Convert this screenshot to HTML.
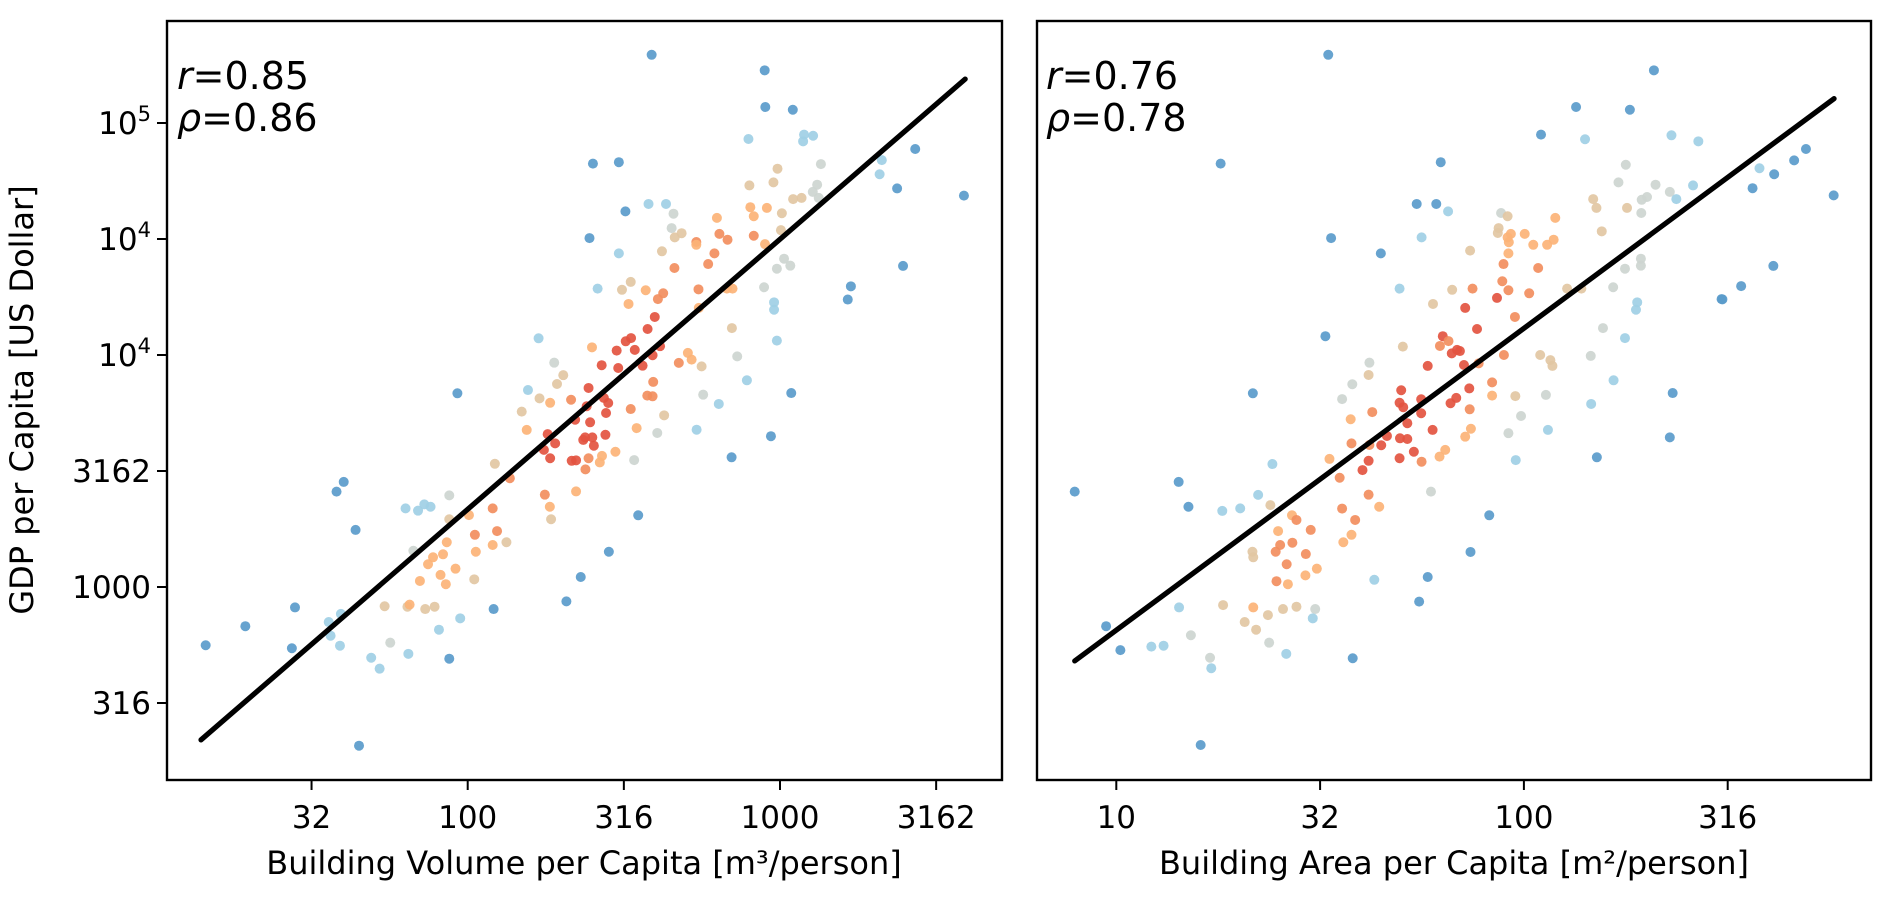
<!DOCTYPE html>
<html><head><meta charset="utf-8"><style>
html,body{margin:0;padding:0;background:#fff}
svg{display:block;font-family:"DejaVu Sans","Liberation Sans",sans-serif}
</style></head><body>
<svg id="fig" width="1892" height="897" viewBox="0 0 1892 897" xmlns="http://www.w3.org/2000/svg">
<rect width="1892" height="897" fill="#fff"/>
<g id="left"></g>
<g id="right"></g>
<text transform="translate(33,400) rotate(-90)" text-anchor="middle" font-size="32">GDP per Capita [US Dollar]</text>
<text x="584" y="874" text-anchor="middle" font-size="32">Building Volume per Capita [m³/person]</text>
<text x="1454" y="874" text-anchor="middle" font-size="32">Building Area per Capita [m²/person]</text>
<text x="177" y="89" font-size="38"><tspan font-style="italic">r</tspan>=0.85</text>
<text x="177" y="131" font-size="38"><tspan font-style="italic">ρ</tspan>=0.86</text>
<text x="1046" y="89" font-size="38"><tspan font-style="italic">r</tspan>=0.76</text>
<text x="1046" y="131" font-size="38"><tspan font-style="italic">ρ</tspan>=0.78</text>
</svg>
<script>
// log10 values
const volumeLog10 = [2.589,2.951,2.953,3.041,2.899,3.077,3.106,3.074,2.401,2.484,2.992,3.131,2.902,2.979,3.119,3.105,3.069,3.042,3.124,
2.579,2.635,2.659,2.505,2.905,2.916,2.958,3.006,2.798,2.653,2.663,2.685,2.732,2.732,2.806,2.832,2.916,3.003,2.952,2.390,2.484,2.622,2.790,2.770,2.662,3.013,3.033,2.990,2.416,2.494,2.522,2.570,2.626,2.609,2.515,2.739,2.848,2.830,2.949,2.981,2.981,2.599,2.576,2.846,2.740,
2.990,2.398,2.477,2.506,2.523,2.535,2.429,2.482,2.560,2.592,2.616,2.705,2.717,2.676,2.749,2.863,2.894,3.036,2.754,2.804,2.306,2.387,2.331,2.381,2.436,2.450,2.443,2.594,2.575,2.592,2.522,2.629,2.392,2.541,2.607,2.733,2.971,2.376,2.399,2.441,2.344,
2.227,1.967,2.277,2.193,2.230,2.264,2.286,2.173,2.189,2.256,2.244,2.264,2.280,2.087,2.135,1.603,1.580,1.941,1.801,1.841,1.861,1.881,2.247,2.263,2.267,2.347,2.080,2.004,1.941,1.641,2.023,2.094,2.124,2.080,2.026,1.933,1.826,1.889,1.921,1.873,1.913,1.961,1.930,1.847,2.021,2.452,2.546,2.362,2.316,2.083,1.976,1.908,1.734,1.807,1.814,1.864,1.894,1.447,1.288,1.161,1.437,1.555,1.594,1.561,1.591,1.752,
2.387,2.333,2.347,2.423,2.430,2.377,2.473,2.533,2.845,2.370,2.404,
1.691,1.718,1.810,1.941,1.652,
3.326,3.433,3.319,3.375,3.589,3.394,3.227,3.217];
const gdpLog10Volume = [5.294,5.227,5.069,5.057,4.931,4.950,4.945,4.921,4.825,4.831,4.803,4.823,4.731,4.744,4.734,4.703,4.677,4.672,4.677,
4.651,4.651,4.609,4.619,4.637,4.598,4.634,4.611,4.591,4.547,4.507,4.525,4.487,4.475,4.522,4.497,4.514,4.538,4.478,4.504,4.438,4.447,4.438,4.392,4.375,4.415,4.385,4.372,4.286,4.281,4.315,4.279,4.266,4.241,4.220,4.283,4.286,4.286,4.292,4.227,4.195,4.164,4.112,4.116,4.203,
4.062,4.033,4.019,4.059,4.073,4.022,3.956,3.944,3.954,3.999,4.038,4.009,3.980,3.966,3.951,3.994,3.891,3.836,3.829,3.789,3.913,3.858,3.807,3.779,3.815,3.793,3.750,3.884,3.825,3.822,3.767,3.740,3.710,3.685,3.664,3.678,3.650,3.645,3.645,3.656,3.721,
4.072,3.835,3.967,3.849,3.813,3.794,3.875,3.756,3.677,3.659,3.591,3.555,3.619,3.531,3.469,3.453,3.411,3.395,3.339,3.329,3.356,3.346,3.398,3.346,3.292,3.412,3.339,3.310,3.292,3.246,3.225,3.241,3.193,3.181,3.152,3.193,3.156,3.128,3.141,3.098,3.052,3.079,3.012,3.026,3.033,3.152,3.309,3.043,2.938,2.905,2.865,2.816,2.917,2.915,2.924,2.905,2.915,2.912,2.831,2.749,2.736,2.849,2.884,2.790,2.747,2.760,
3.555,3.544,3.546,3.537,3.565,3.507,3.583,3.547,3.559,3.634,3.609,
2.695,2.648,2.712,2.691,2.316,
4.840,4.888,4.779,4.718,4.687,4.384,4.296,4.239];
const groupVolume = ("BBBBLLLLBBTGTTGGTTG"+"LLGBOOOTOGTTDODDDTOBLTDDDGGGLTTODDODOOGLLRRTO"+"LORRRRRRRRROODTGLBGLTRDRRRRDDDDTROGLBRRRR"+"LBGLTOTTORRRRTDBBGLLLLDOTODOTBDDTOOOGOOOOOOOTBBBBBLLTTOTTBBBBLLLLG"+"DRROODOGBRR"+"LLLBB"+"LBLBBBBB").split('');

const areaLog10 = [1.520,2.319,2.128,2.260,2.042,2.150,2.362,2.428,1.256,1.796,2.250,2.232,2.323,2.415,2.358,2.374,2.302,2.289,2.288,2.253,2.170,2.178,2.191,1.737,1.785,1.814,1.527,1.749,1.649,1.944,1.960,1.938,1.936,1.968,1.960,2.002,1.963,2.023,2.057,2.073,2.077,1.868,1.962,1.950,2.035,2.287,2.287,2.248,1.695,1.824,1.874,1.947,1.962,1.934,2.013,1.856,1.777,1.978,1.885,2.106,2.141,2.219,2.278,2.275,2.194,2.485,1.513,1.801,2.248,
2.578,2.614,2.561,2.663,2.692,2.760,2.612,2.533,2.487,2.365,2.358,2.179,2.220,2.165,2.164,
1.703,1.794,1.815,1.823,1.836,1.843,1.621,1.619,1.579,1.554,1.764,1.853,1.889,1.951,2.040,2.065,2.070,1.922,1.922,1.979,2.054,1.993,1.962,2.059,1.980,1.866,1.834,1.820,1.867,1.699,1.695,1.704,1.748,1.748,1.714,1.776,1.628,1.575,1.870,1.856,1.696,1.714,1.664,1.650,1.577,1.621,1.730,1.695,1.749,1.807,1.793,1.619,1.604,1.548,1.523,1.383,1.772,1.619,1.645,1.554,1.586,1.577,1.557,1.477,1.431,1.442,1.397,1.402,1.391,1.432,1.465,1.418,1.492,1.464,1.393,1.421,1.334,1.336,1.378,1.348,1.304,1.260,1.153,1.177,0.898,1.335,1.915,1.869,1.764,1.633,1.743,1.262,1.336,1.409,1.442,1.488,1.482,1.372,1.315,1.343,1.154,0.975,1.183,
1.010,1.086,1.116,1.230,1.233,1.375,1.417,1.580,1.207];
const gdpLog10Area = [5.294,5.227,5.069,5.057,4.950,4.930,4.947,4.921,4.825,4.831,4.820,4.744,4.734,4.731,4.703,4.672,4.681,4.669,4.612,4.634,4.672,4.634,4.533,4.651,4.651,4.619,4.504,4.507,4.438,4.612,4.598,4.547,4.526,4.522,4.507,4.522,4.486,4.475,4.475,4.497,4.591,4.450,4.438,4.392,4.375,4.415,4.385,4.372,4.286,4.281,4.286,4.318,4.279,4.246,4.266,4.203,4.220,4.164,4.112,4.286,4.286,4.292,4.227,4.195,4.116,4.241,4.081,4.081,4.073,
4.805,4.779,4.719,4.839,4.888,4.688,4.384,4.297,4.240,3.836,3.645,3.559,3.891,3.789,3.996,
4.036,4.039,4.060,4.007,4.022,4.017,3.967,3.914,3.874,3.810,3.953,3.957,3.964,4.000,4.000,3.978,3.953,3.882,3.825,3.823,3.828,3.737,3.663,3.677,3.547,3.856,3.815,3.792,3.766,3.848,3.794,3.775,3.809,3.749,3.706,3.677,3.754,3.723,3.682,3.648,3.641,3.638,3.651,3.611,3.619,3.612,3.583,3.555,3.540,3.591,3.562,3.544,3.504,3.471,3.552,3.530,3.411,3.398,3.346,3.338,3.289,3.225,3.193,3.246,3.309,3.289,3.241,3.181,3.152,3.191,3.142,3.098,3.079,3.050,3.025,3.012,3.152,3.128,3.353,3.397,3.339,3.328,3.453,3.346,3.411,3.835,3.309,3.151,3.043,3.031,2.937,2.922,2.912,2.905,2.915,2.905,2.865,2.879,2.849,2.816,2.912,2.831,2.792,
2.728,2.743,2.747,2.695,2.650,2.760,2.712,2.693,2.319];
const groupArea = ("BBBBBLLLBBGGGLGLGGGTTTTBBLBLBGTTTOOOOOOOOTODDGGGLTDDDRDRTDRTTGLLGBBRL"+"LBBBBBBBBBBBLLG"+"TDDRRRGTGGRRDDTTTDOTGGGLLRRRDRRRRRRRDOOORRRRDDRRDOORRDOLGDODDOODODODDDDDOODOTTTLLLBBBBBBBLBTOTTGLTTTLBG"+"BLLGLGLBB").split('');

const yTickLog = [5, 4.5, 4, 3.5, 3, 2.5];
const yTickLabels = ["10^5", "10^4", "10^4", "3162", "1000", "316"];
const volTickLog = [1.5, 2, 2.5, 3, 3.5];
const volTickLabels = ["32", "100", "316", "1000", "3162"];
const areaTickLog = [1, 1.5, 2, 2.5];
const areaTickLabels = ["10", "32", "100", "316"];
const fitVolume = [1.007, 1.164];   // intercept, slope (log-log)
const fitVolumeRange = [1.146, 3.593];
const fitArea = [1.513, 1.301];
const fitAreaRange = [0.898, 2.761];

const colors = {B:"#5a9bcb", L:"#9fcfe5", G:"#cdd5d0", T:"#e2c7a3", O:"#fcb377", D:"#f28e5e", R:"#e35440"};
const NS = "http://www.w3.org/2000/svg";
const yScale = v => 587 - (v - 3) * 232;
const xVol = v => 467.7 + (v - 2) * 312.3;
const xArea = v => 1116.3 + (v - 1) * 407.6;

function mk(tag, attrs, parent) {
  const e = document.createElementNS(NS, tag);
  for (const k in attrs) e.setAttribute(k, attrs[k]);
  parent.appendChild(e);
  return e;
}

function panel(g, x0, x1, xs, ys, grp, xScale, ticks, tickLabels, fit, fitRange, showY, prefix) {
  const top = 21, bot = 780;
  for (let i = 0; i < xs.length; i++) {
    const c = mk("circle", {cx: xScale(xs[i]), cy: yScale(ys[i]), r: 5, fill: colors[grp[i]], "fill-opacity": 0.92}, g);
    
    
  }
  const ln = mk("line", {x1: xScale(fitRange[0]), y1: yScale(fit[0] + fit[1] * fitRange[0]), x2: xScale(fitRange[1]), y2: yScale(fit[0] + fit[1] * fitRange[1]), stroke: "#000", "stroke-width": 5.2, "stroke-linecap": "round"}, g);
  
  
  const fr = mk("rect", {x: x0, y: top, width: x1 - x0, height: bot - top, fill: "none", stroke: "#000", "stroke-width": 2.4}, g);
  
  
  ticks.forEach((t, i) => {
    const x = xScale(t);
    mk("line", {x1: x, y1: bot, x2: x, y2: bot + 10, stroke: "#000", "stroke-width": 2}, g);
    const tx = mk("text", {x: x, y: 828, "text-anchor": "middle", "font-size": 31}, g);
    tx.textContent = tickLabels[i];
    
    
  });
  if (showY) {
    yTickLog.forEach((t, i) => {
      const y = yScale(t);
      mk("line", {x1: x0 - 10, y1: y, x2: x0, y2: y, stroke: "#000", "stroke-width": 2}, g);
      const tx = mk("text", {x: x0 - 16, y: y + 11, "text-anchor": "end", "font-size": 31}, g);
      
      
      const lab = yTickLabels[i];
      if (lab.indexOf("^") >= 0) {
        const parts = lab.split("^");
        const a = mk("tspan", {}, tx); a.textContent = parts[0];
        const b = mk("tspan", {"font-size": 21, dy: -13}, tx); b.textContent = parts[1];
      } else tx.textContent = lab;
    });
  }
}
panel(document.getElementById("left"), 167, 1002, volumeLog10, gdpLog10Volume, groupVolume, xVol, volTickLog, volTickLabels, fitVolume, fitVolumeRange, true, "volume");
panel(document.getElementById("right"), 1037, 1871, areaLog10, gdpLog10Area, groupArea, xArea, areaTickLog, areaTickLabels, fitArea, fitAreaRange, false, "area");
</script>
</body></html>
